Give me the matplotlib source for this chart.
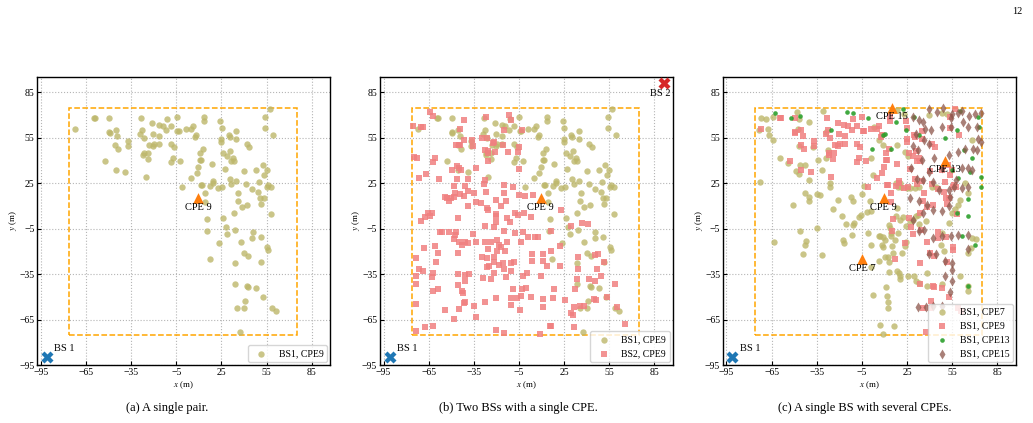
import matplotlib
matplotlib.use("Agg")
import matplotlib.pyplot as plt
from matplotlib.patches import Rectangle

plt.rcParams['font.family'] = ['Liberation Serif', 'DejaVu Serif']
plt.rcParams['mathtext.fontset'] = 'stix'

# base stations and CPE positions (m)
bs1 = (-91, -90)
bs2 = (91, 91)
cpe7 = (-5, -25)
cpe9 = (9.5, 15)
cpe13 = (50, 40)
cpe15 = (15, 75)
area = (-76, 75)

ticks = [-95, -65, -35, -5, 25, 55, 85]
captions = ["(a) A single pair.", "(b) Two BSs with a single CPE.", "(c) A single BS with several CPEs."]

# BS1 -> CPE9 links
bs1_cpe9_x = [-72.3, -59.7, -59.0, -49.6, -49.2, -49.6, -45.2, -44.1, -45.4, -43.6, -52.5, -45.2, -38.8, -37.1, -37.1,
              -28.3, -29.0, -27.6, -26.1, -26.7, -27.2, -23.9, -23.7, -23.2, -25.4, -21.0, -20.2, -20.6, -19.5, -16.6,
              -16.2, -16.2, -14.0, -11.8, -11.2, -8.3, -8.3, -6.5, -7.0, -8.3, -4.8, -4.2, -3.5, -2.6, -1.1, 1.3, 4.8,
              6.3, 7.4, 8.1, 4.8, 8.5, 9.6, 10.7, 10.9, 11.5, 12.8, 11.7, 12.4, 13.5, 13.7, 14.3, 14.1, 15.7, 15.2,
              17.2, 17.4, 18.5, 19.4, 19.6, 22.7, 24.0, 25.1, 24.9, 24.9, 25.3, 26.2, 27.1, 26.0, 27.8, 28.7, 23.6,
              28.9, 29.8, 30.5, 31.0, 30.5, 31.6, 31.6, 32.9, 33.3, 34.8, 34.6, 34.8, 35.9, 35.7, 33.3, 33.9, 33.7,
              33.7, 35.3, 37.3, 38.4, 38.2, 39.9, 40.1, 42.8, 42.1, 42.6, 41.0, 39.9, 41.4, 41.7, 43.6, 42.3, 45.6,
              47.9, 45.8, 45.4, 48.2, 49.3, 50.2, 50.9, 51.6, 51.1, 51.4, 52.3, 52.7, 53.1, 53.4, 53.8, 53.8, 55.1,
              55.6, 55.6, 55.8, 56.2, 57.1, 57.8, 58.0, 58.5, 59.6, 61.1]
bs1_cpe9_y = [60.9, 68.2, 68.2, 68.0, 58.3, 58.8, 60.5, 56.1, 50.0, 47.8, 39.9, 33.8, 32.3, 52.8, 49.8,
              68.0, 57.6, 60.3, 55.0, 45.0, 43.6, 41.2, 44.7, 50.6, 29.2, 64.6, 57.6, 49.6, 51.1, 63.8,
              56.3, 51.1, 63.0, 60.3, 67.3, 62.7, 51.1, 48.9, 41.5, 38.8, 68.6, 59.4, 59.4, 39.5, 22.4, 60.7, 60.7,
              62.7, 55.5, 57.0, 28.3, 31.8, 35.5, 44.7, 40.1, 40.3, 47.8, 24.2, 23.6, 68.6, 66.4, 18.3, 12.8, 1.2, -6.5,
              -24.8, 23.1, 38.0, 26.6, 24.9, 22.2, 66.4, 61.6, 54.4, 52.6, 22.6, 45.0, 34.2, 2.3, -3.8, -8.2, -14.1,
              42.8, 57.0, 55.9, 46.3, 27.7, 24.4, 39.8, 41.5, 39.8, 59.4, 54.2, 26.6, 18.3, 13.2, 5.1, -6.0, -27.5,
              -41.7, -57.5, -73.0, 9.3, -13.9, 33.4, -21.3, -22.9, -43.0, -43.4, -52.9, -57.2, 24.6, 51.1, 48.9, 11.0, 21.3,
              33.6, -6.9, -10.8, -43.9, 19.6, 25.9, 15.0, 11.3, -10.4, -27.2, 37.1, -50.2, 15.6, 30.3, 69.0, 61.6, 33.8,
              22.6, -17.0, -19.2, 23.7, 73.8, 22.4, 4.9, -57.2, 56.6, -59.4]

# BS2 -> CPE9 links
bs2_cpe9_x = [-63.9, -61.8, -75.3, -69.9, -68.8, -41.4, -44.3, -44.7, -46.9, -44.0, -41.4, -36.0, -35.7, -29.8, -27.2,
              -26.1, -27.6, -25.6, -25.5, -25.9, -22.2, -21.5, -21.1, -15.8, -15.2, -12.6, -11.5, -10.2, -4.9, -5.8,
              -4.9, -3.2, -74.7, -72.7, -71.4, -67.0, -61.1, -62.2, -58.3, -49.5, -46.5, -44.7, -43.6, -39.2, -33.8,
              -46.5, -48.0, -47.3, -44.3, -40.8, -41.4, -39.0, -34.9, -33.8, -28.3, -27.6, -53.9, -51.7, -50.2, -48.0,
              -52.8, -30.5, -26.1, -25.6, -27.2, -15.0, -9.3, -20.6, -16.7, -14.7, -5.3, -0.8, 3.0, -5.8, -1.8, -7.5,
              -10.8, -20.6, -20.0, -20.2, -13.0, -65.5, -62.6, -63.9, -67.7, -69.9, -45.4, -46.9, -56.1, -57.4, -51.3,
              -47.3, -35.5, -27.8, -21.7, -14.7, -7.5, -2.1, 0.8, 7.8, 5.6, 16.5, 22.6, -61.1, -58.9, -68.3, -73.6,
              -60.4, -71.4, -68.8, -73.1, -62.2, -62.6, -73.1, -58.9, -61.8, -73.6, -53.9, -61.8, -67.7, -73.6, -48.0,
              -40.8, -43.0, -45.2, -44.7, -48.0, -38.6, -33.8, -29.4, -25.5, -27.6, -23.9, -19.6, -18.0, -19.6, -16.7,
              -14.1, -21.7, -26.1, -24.6, -26.1, -21.7, -18.0, -15.8, -10.2, -10.6, -8.4, -13.0, -3.6, 3.4, 3.4, 11.1,
              11.1, 13.9, 16.1, 22.0, 22.0, 34.0, 34.4, 33.6, 9.5, -2.1, 0.1, -13.7, -15.2, -21.7, -23.3, -28.9, -38.1,
              -40.8, -45.2, -40.8, -45.8, -43.0, -42.2, -40.8, -41.4, -44.7, -34.9, -27.6, -33.8, -20.6, -10.2, -10.2,
              -6.4, -9.3, -3.6, -3.2, -0.5, 3.0, -4.2, 11.1, 11.1, 17.6, 18.3, 25.7, 31.4, 29.6, 30.7, 32.3, 35.8, 38.4,
              41.7, 45.4, 44.5, 46.3, 47.1, 49.8, 51.5, 53.3, 58.5, 59.8, 65.1, 40.6, 36.6, 29.6, 8.9, 15.4, 16.0, 31.8,
              -20.2, -15.2, 47.6, 45.4, -13.7, -39.2, 4.5]
bs2_cpe9_y = [72.1, 69.2, 63.1, 62.0, 62.0, 53.9, 60.9, 50.6, 50.0, 50.0, 66.6, 53.9, 49.5, 55.0, 68.8,
              55.0, 46.7, 46.2, 44.7, 39.7, 51.7, 52.1, 45.6, 50.0, 60.5, 45.6, 70.3, 67.0, 49.1, 45.6,
              34.6, 60.0, 42.5, 41.9, 28.7, 30.9, 41.9, 39.2, 28.1, 33.8, 36.4, 34.9, 33.8, 27.6, 35.3,
              27.6, 23.3, 18.4, 18.2, 23.3, 16.7, 20.0, 18.4, 12.7, 24.3, 27.0, 16.2, 13.4, 15.6, 16.2,
              15.6, 11.9, 8.4, 7.5, 19.3, 23.7, 22.8, 13.8, 10.1, 18.9, 17.6, 16.7, 2.5, 4.0, 5.3, 5.7,
              -0.8, 4.6, 3.5, -0.8, 1.8, 5.7, 5.7, 3.5, 2.9, 0.3, 1.8, -7.0, -7.0, -7.4, -7.0,
              -8.9, -8.5, -3.5, -3.7, -6.3, -7.9, -7.4, -10.2, -10.6, -10.6, -6.3, 7.5, -16.2, -21.2, -17.9, -24.5,
              -26.7, -31.5, -32.6, -35.9, -34.1, -37.0, -41.3, -44.6, -46.4, -54.5, -58.9, -69.4, -70.0, -72.2, -64.8,
              -14.0, -15.5, -21.2, -14.0, -11.8, -14.4, -14.0, -23.8, -18.4, -13.5, -13.5, -12.2, -15.7, -19.4, -17.3,
              -19.4, -23.4, -24.0, -29.3, -30.4, -27.1, -28.9, -27.5, -27.5, -33.2, -27.1, -14.0, -14.0, -21.6, -26.0, -26.5,
              -21.6, -29.3, -19.4, -29.3, -16.2, -23.8, -31.5, -38.5, -35.9, -35.9, -34.1, -37.0, -31.5, -34.1, -38.1, -37.6, -34.8,
              -35.4, -34.8, -39.8, -42.4, -46.4, -47.3, -53.4, -54.1, -58.2, -56.0, -53.4, -63.2, -50.5, -50.7, -55.6,
              -50.7, -45.1, -49.7, -45.1, -44.2, -50.3, -58.9, -51.2, -56.7, -50.5, -44.6, -51.8, -56.7, -60.6, -62.1, -44.6, -56.2, -56.2,
              -38.5, -39.2, -51.2, -52.3, -31.5, -36.3, -26.7, -49.9, -41.3, -56.7, -67.6, -1.9, -1.5, -3.0, -74.4, -69.4, -69.4, -70.0,
              -71.6, -73.7, -21.6, -22.3, 13.2, 10.1, 17.1]

# BS1 -> CPE7 links
bs1_cpe7_x = [-72.3, -73.4, -67.5, -66.9, -64.3, -63.2, -72.9, -59.5, -53.9, -48.5, -47.0, -46.5, -45.9, -43.0, -47.4,
              -47.0, -40.5, -43.0, -40.5, -40.0, -45.9, -42.2, -42.6, -44.1, -35.0, -32.9, -35.0, -31.4, -31.8, -28.8,
              -26.4, -26.4, -30.7, -27.5, -37.2, -24.2, -21.0, -18.4, -17.7, -16.6, -15.6, -11.2, -10.2, -12.3, -11.2,
              -11.9, -6.9, -5.8, -4.7, -1.5, 0.2, 0.7, -1.1, 1.3, 6.1, 7.2, 9.3, 10.4, 8.2, 8.7, 10.4, 12.6, 11.1, 11.5,
              12.0, 12.0, 6.7, 9.3, 16.3, 2.4, 1.1, 6.1, 13.2, 13.7, 14.3, 14.1, 19.1, 16.9, 14.7, 15.8, 13.2, 13.2,
              18.0, 19.7, 20.2, 20.2, 25.6, 23.4, 21.9, 24.5, 24.0, 22.3, 18.0, 17.6, 20.6, 26.7, 29.2, 17.6, 19.1,
              21.2, 20.6, 23.4, 25.6, 18.4, 24.9, 26.7, 30.5, 32.7, 32.5, 31.0, 32.7, 37.5, 29.9, 31.0, 32.7, 38.5,
              48.3, 48.3, 49.4, 47.2, 52.6, 54.8, 56.9, 59.1, 60.2, 63.4, 65.6, 67.8, 67.8, 65.6, 67.3, 70.6, 60.2,
              65.6, 65.2, 38.5, 41.8, 44.0, 39.6, 48.3, 51.5, 22.7, 18.4, 2.8, 6.1, 9.3, 8.2, 0.7, 2.4, -3.7, -29.2,
              -34.4, -40.5, -50.6, -68.6, -63.8, -48.0]
bs1_cpe7_y = [68.0, 59.9, 61.0, 57.1, 53.4, -13.6, 25.6, 41.4, 38.7, 33.3, 31.1, 49.9, 37.0, 37.4, 61.0,
              67.5, 65.4, 18.5, 15.8, 13.6, -6.6, -12.8, -15.8, -21.5, 18.0, 17.4, -4.5, -22.4, 33.7, 41.6,
              25.0, 22.4, 72.6, 47.3, 49.0, 8.0, 14.1, 3.2, -12.5, -14.7, -1.6, -2.3, -1.2, 16.3, 13.0,
              -8.8, 2.7, 4.3, 18.0, 5.8, 13.6, 6.4, -7.7, -15.4, -9.9, -9.9, -10.4, -12.1, -15.4, -16.9, -23.4, -23.7, -43.7, -49.2,
              -53.1, -57.5, -68.8, -74.3, -69.5, -48.8, -30.0, -26.3, -2.3, -4.5, -7.7, -9.5, -7.7, -12.5, -16.5, -20.8, -26.9, -33.5,
              -32.8, -34.4, -36.5, -38.3, -36.1, -16.5, -20.8, -13.6, -2.9, 2.5, 8.6, 3.6, 1.0, -0.1, 1.0, 25.0, 22.4,
              22.8, 25.4, 45.7, 42.9, 50.5, 21.7, 22.2, 21.7, 22.8, 4.3, 3.2, -1.6, -0.1, -36.1, -39.4, -40.9, -42.6,
              -41.8, -7.7, -19.7, -15.4, -1.2, 5.4, 8.0, 10.8, 14.1, 25.0, 18.5, 53.4, -11.0, -20.8, -17.6, -11.7, -36.1,
              -42.6, -46.4, -33.9, 22.8, 22.8, 70.4, 71.5, 70.8, 70.8, 73.4, 62.1, 53.4, 50.1, 56.6, 41.4, 30.5, 23.3, 58.8,
              40.7, 27.2, 10.8, 67.5, 69.1, 71.9]

# BS1 -> CPE13 links
bs1_cpe13_x = [-62.5, -52.4, -45.9, -25.3, -14.9, -11.2, -1.1, 1.8, 9.3, 10.4, 14.3, 17.6, 22.3, 24.0, 29.9, 33.1,
               50.0, 57.9, 63.0, 67.8, 66.7, 73.8, 74.2, 59.1, 58.0, 65.2, 65.2, 61.3, 69.9, 65.6, 72.1, 72.8, 60.2, 54.8]
bs1_cpe13_y = [71.3, 68.2, 69.7, 60.3, 72.3, 71.5, 68.2, 47.9, 56.6, 57.7, 47.9, 65.4, 74.1, 60.3, 69.1, 56.6,
               55.1, 60.3, 46.8, 41.4, 32.6, 28.9, 22.4, 28.3, 5.4, 3.6, 14.5, -9.5, -16.0, -42.6, 68.6, 62.1, 73.0, 33.7]

# BS1 -> CPE15 links
bs1_cpe15_x = [39.6, 45.0, 48.7, 54.8, 59.1, 61.3, 65.9, 69.8, 74.2, 28.8, 32.7, 35.3, 37.0, 40.7, 48.3, 54.4, 54.4,
               62.4, 65.6, 71.7, 72.1, 73.8, 68.8, 71.7, 63.4, 58.7, 52.9, 42.9, 34.9, 32.1, 28.8, 31.0, 36.0, 39.6,
               27.7, 31.6, 35.3, 42.2, 39.6, 47.9, 61.3, 65.2, 68.2, 57.4, 52.6, 53.6, 55.9, 61.3, 65.2, 26.6, 33.1,
               38.5, 42.2, 47.9, 52.6, 35.3, 28.8, 33.1, 36.3, 42.2, 48.3, 54.4, 59.1, 65.6, 65.6, 39.6, 44.4, 50.0,
               54.8, 54.8, 50.0, 54.8, 53.6, 32.0, 37.5, 42.2, 48.3, 46.1]
bs1_cpe15_y = [74.1, 71.9, 74.7, 70.8, 71.3, 73.0, 69.7, 70.8, 71.3, 68.6, 66.9, 65.4, 61.0, 59.9, 62.1, 62.1, 68.2,
               65.4, 62.1, 62.1, 54.5, 52.3, 47.9, 47.3, 47.9, 45.7, 43.5, 42.0, 40.7, 46.8, 49.7, 57.7, 53.8, 51.2,
               34.8, 27.6, 27.2, 26.1, 32.6, 34.8, 35.3, 34.8, 33.7, 27.2, 20.6, 15.8, 22.4, 21.7, 22.4, 15.2, 13.0,
               10.8, 7.5, 6.4, 10.2, 5.4, 1.0, -6.6, -5.5, -11.0, -9.9, -9.9, -8.8, -8.8, -18.6, -21.9, -21.9, -26.3,
               -27.4, -32.2, -36.1, -39.4, -47.0, -56.8, -56.4, -55.7, -55.7, 20.6]

OLIVE = dict(marker='o', s=21, color='darkkhaki', alpha=0.8, linewidths=0)
PINK = dict(marker='s', s=22, color='lightcoral', alpha=0.85, linewidths=0)
GREEN = dict(marker='o', s=11, color='tab:green', alpha=0.9, linewidths=0)
BROWN = dict(marker='d', s=26, color='tab:brown', alpha=0.75, linewidths=0)


def setup(ax):
    ax.set_xlim(-97.3, 97.3)
    ax.set_ylim(-95, 95.5)
    ax.set_xticks(ticks)
    ax.set_yticks(ticks)
    ax.tick_params(direction='in', labelsize=7, length=3, pad=2)
    ax.grid(True, linestyle=':', color='#b5b5b5', linewidth=0.8)
    ax.set_axisbelow(True)
    ax.set_xlabel("$x$ (m)", fontsize=6.5, labelpad=2)
    ax.set_ylabel("$y$ (m)", fontsize=6.5, labelpad=0)
    for sp in ax.spines.values():
        sp.set_linewidth(1.0)
    ax.add_patch(Rectangle((area[0], -area[1]), area[1] - area[0], 2 * area[1], fill=False,
                           edgecolor='orange', linestyle='--', linewidth=1.1, zorder=1))


def bs(ax, pos, color, label, ha, dx, dy):
    ax.scatter(*pos, marker='X', s=75, color=color, zorder=5, linewidths=0)
    ax.text(pos[0] + dx, pos[1] + dy, label, fontsize=7.5, ha=ha, va='center')


def cpe(ax, pos, label):
    ax.scatter(*pos, marker='^', s=60, color='tab:orange', zorder=5, linewidths=0)
    ax.text(pos[0], pos[1] - 6, label, fontsize=7.5, ha='center', va='center', zorder=6)


def legend(ax):
    ax.legend(loc='lower right', fontsize=7, framealpha=0.8, borderaxespad=0.3, handletextpad=0.8,
              borderpad=0.4, labelspacing=0.5)


def main(outfile='out.png'):
    fig = plt.figure(figsize=(10.33, 4.23), dpi=100)
    lefts = [0.0361, 0.3679, 0.6999]
    axs = [fig.add_axes([l, 0.137, 0.2836, 0.682]) for l in lefts]

    ax = axs[0]
    setup(ax)
    ax.scatter(bs1_cpe9_x, bs1_cpe9_y, label='BS1, CPE9', zorder=3, **OLIVE)
    bs(ax, bs1, 'tab:blue', 'BS 1', 'left', 5, 6)
    cpe(ax, cpe9, 'CPE 9')
    legend(ax)

    ax = axs[1]
    setup(ax)
    ax.scatter(bs1_cpe9_x, bs1_cpe9_y, label='BS1, CPE9', zorder=3, **OLIVE)
    ax.scatter(bs2_cpe9_x, bs2_cpe9_y, label='BS2, CPE9', zorder=3, **PINK)
    bs(ax, bs1, 'tab:blue', 'BS 1', 'left', 5, 6)
    bs(ax, bs2, 'tab:red', 'BS 2', 'center', -2, -7)
    cpe(ax, cpe9, 'CPE 9')
    legend(ax)

    ax = axs[2]
    setup(ax)
    ax.scatter(bs1_cpe7_x, bs1_cpe7_y, label='BS1, CPE7', zorder=3, **OLIVE)
    ax.scatter(bs1_cpe9_x, bs1_cpe9_y, label='BS1, CPE9', zorder=3, **PINK)
    ax.scatter(bs1_cpe13_x, bs1_cpe13_y, label='BS1, CPE13', zorder=3, **GREEN)
    ax.scatter(bs1_cpe15_x, bs1_cpe15_y, label='BS1, CPE15', zorder=3, **BROWN)
    bs(ax, bs1, 'tab:blue', 'BS 1', 'left', 5, 6)
    for pos, name in [(cpe7, 'CPE 7'), (cpe9, 'CPE 9'), (cpe13, 'CPE 13'), (cpe15, 'CPE 15')]:
        cpe(ax, pos, name)
    legend(ax)

    for xc, cap in zip([167, 518, 865], captions):
        fig.text(xc / 1033, 1 - 408 / 423, cap, fontsize=9, ha='center', va='center')
    fig.text(1 - 16 / 1033, 1 - 12 / 423, "12", fontsize=7.5, ha='center', va='center')

    fig.savefig(outfile, dpi=100)


if __name__ == '__main__':
    main()
